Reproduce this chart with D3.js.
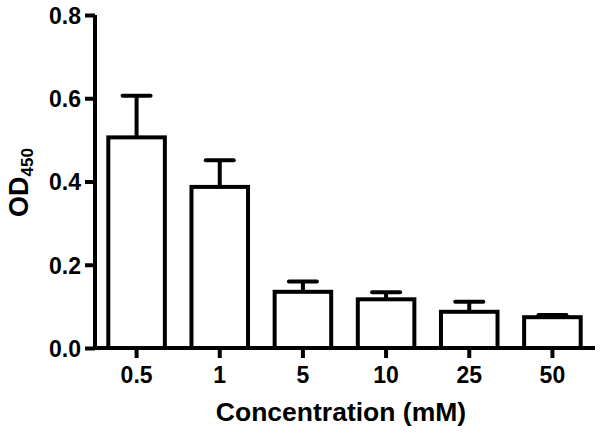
<!DOCTYPE html>
<html><head><meta charset="utf-8">
<script src="https://cdn.jsdelivr.net/npm/d3@7"></script>
<style>body{margin:0;background:#fff}svg{display:block}text{font-family:"Liberation Sans",Arial,sans-serif;font-weight:bold;fill:#000}</style>
</head><body>
<svg id="c" width="602" height="433"></svg>
<script>
const categories = ["0.5","1","5","10","25","50"];
const means = [0.506, 0.387, 0.135, 0.117, 0.087, 0.074];
const errors = [0.100, 0.064, 0.025, 0.017, 0.024, 0.005];
const yTicks = [0.0, 0.2, 0.4, 0.6, 0.8];

const svg = d3.select("#c");
const x = d3.scaleBand().domain(categories).range([95, 594]).paddingInner(0.32).paddingOuter(0.16);
const y = d3.scaleLinear().domain([0, 0.8]).range([348, 15]);
const sw = 4;

// bars
svg.append("g").selectAll("rect").data(categories).join("rect")
  .attr("x", d => x(d)).attr("width", x.bandwidth())
  .attr("y", (d,i) => y(means[i])).attr("height", (d,i) => y(0) - y(means[i]))
  .attr("fill", "#fff").attr("stroke", "#000").attr("stroke-width", sw);

// error bars
const eg = svg.append("g").attr("stroke", "#000").attr("stroke-width", sw);
categories.forEach((d,i) => {
  const cx = x(d) + x.bandwidth()/2;
  eg.append("line").attr("x1", cx).attr("x2", cx).attr("y1", y(means[i])).attr("y2", y(means[i]+errors[i]));
  eg.append("line").attr("x1", cx-14).attr("x2", cx+14).attr("y1", y(means[i]+errors[i])).attr("y2", y(means[i]+errors[i])).attr("stroke-linecap","round");
});

// y axis
const ya = svg.append("g").attr("transform", "translate(95,0)")
  .call(d3.axisLeft(y).tickValues(yTicks).tickFormat(d3.format(".1f")).tickSize(10).tickPadding(4));
ya.select(".domain").attr("stroke-width", sw).attr("d", `M0,${y(0.8)}V${y(0)+sw/2}`);
ya.selectAll(".tick line").attr("stroke-width", sw);
ya.selectAll(".tick text").style("font-size", "23px").attr("dy", "0.36em");

// x axis
const xa = svg.append("g").attr("transform", "translate(0,348)")
  .call(d3.axisBottom(x).tickSize(10).tickPadding(9));
xa.select(".domain").attr("stroke-width", sw).attr("d", `M93,0H595`);
xa.selectAll(".tick line").attr("stroke-width", sw);
xa.selectAll(".tick text").style("font-size", "23px");

// titles
svg.append("text").attr("x", 341).attr("y", 421).attr("text-anchor", "middle")
  .style("font-size", "26.5px").text("Concentration (mM)");
const yt = svg.append("text").attr("transform", "translate(28,182.5) rotate(-90)").attr("text-anchor", "middle")
  .style("font-size", "27px");
yt.append("tspan").text("OD");
yt.append("tspan").attr("dy", 5).style("font-size", "17px").text("450");
</script>
</body></html>
